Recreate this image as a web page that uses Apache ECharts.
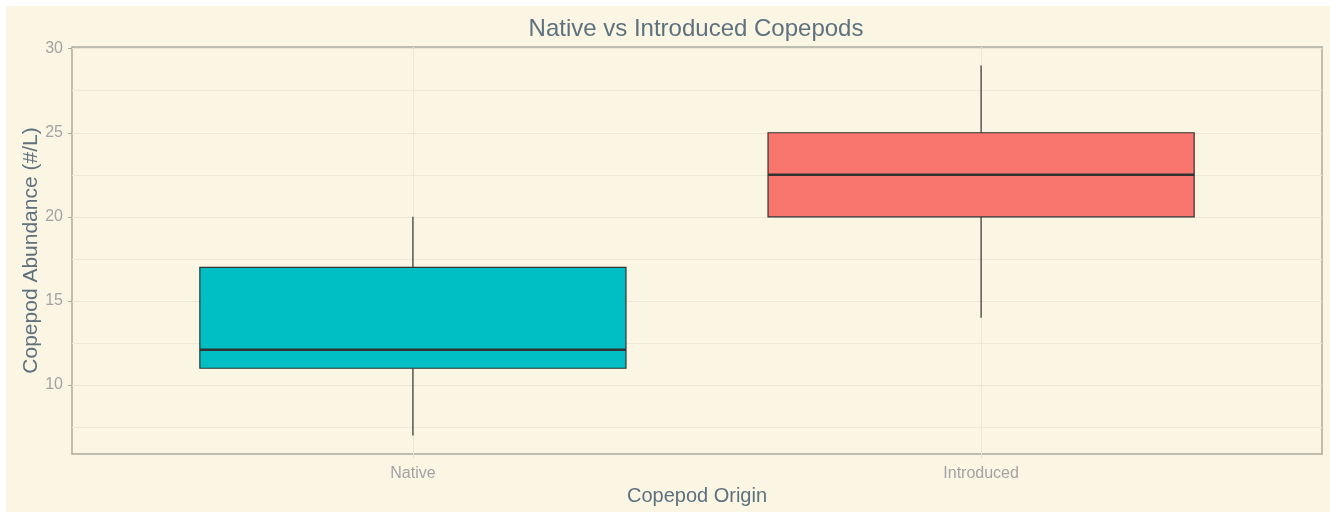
<!DOCTYPE html>
<html><head><meta charset="utf-8">
<script src="https://cdn.jsdelivr.net/npm/echarts@6/dist/echarts.min.js"></script>
<style>
html,body{margin:0;padding:0;background:#fff;}
#wrap{position:absolute;left:6px;top:6px;width:1324px;height:506px;background:#FBF5E4;}
#chart{width:1324px;height:506px;}
</style></head>
<body><div id="wrap"><div id="chart"></div></div>
<script>
const categories = ['Native', 'Introduced'];
const whiskerLow = [7, 14];
const q1 = [11, 20];
const median = [12.1, 22.5];
const q3 = [17, 25];
const whiskerHigh = [20, 29];
const boxColors = ['#00BFC4', '#F8766D'];
const yMajorTicks = [10, 15, 20, 25, 30];
const yMinorTicks = [7.5, 12.5, 17.5, 22.5, 27.5];
const catPositions = [1, 2];

const chart = echarts.init(document.getElementById('chart'), null, {renderer: 'canvas'});
const boxData = categories.map((c, i) => [catPositions[i], whiskerLow[i], q1[i], median[i], q3[i], whiskerHigh[i], i]);
const font = 'Liberation Sans';
const option = {
  backgroundColor: '#FBF5E4',
  title: {
    text: 'Native vs Introduced Copepods',
    left: 685, top: 6, textAlign: 'center',
    textStyle: {fontFamily: font, fontSize: 24, fontWeight: 'normal', color: '#5E717E'}
  },
  grid: {left: 66, right: 8, top: 41, bottom: 58, show: true, borderColor: '#A9AB9E', borderWidth: 1.5, backgroundColor: 'transparent', outerBoundsMode: 'none', containLabel: false},
  xAxis: {
    type: 'value', min: 0.4, max: 2.6,
    name: 'Copepod Origin', nameLocation: 'middle', nameGap: 32, nameMoveOverlap: false,
    nameTextStyle: {fontFamily: font, fontSize: 20, color: '#5E717E'},
    axisLine: {show: false},
    axisTick: {show: true, customValues: catPositions, length: 4, lineStyle: {color: '#E4DECF'}},
    axisLabel: {customValues: catPositions, formatter: v => categories[Math.round(v) - 1] || '', fontFamily: font, fontSize: 16, color: '#A3A3A3', margin: 12},
    splitLine: {show: true, lineStyle: {color: '#EDE6D4', width: 1}}
  },
  yAxis: {
    type: 'value', min: 5.9, max: 30.1,
    name: 'Copepod Abundance (#/L)', nameLocation: 'middle', nameGap: 30, nameRotate: 90, nameMoveOverlap: false,
    nameTextStyle: {fontFamily: font, fontSize: 21, color: '#5E717E'},
    axisLine: {show: false},
    axisTick: {show: true, customValues: yMajorTicks, length: 4, lineStyle: {color: '#A9AB9E'}},
    axisLabel: {customValues: yMajorTicks, fontFamily: font, fontSize: 16, color: '#A3A3A3', margin: 9},
    splitLine: {show: true, lineStyle: {color: '#EDE6D4', width: 1}}
  },
  series: [
    {
      type: 'line', data: [], silent: true, z: 1,
      markLine: {
        silent: true, symbol: 'none', label: {show: false}, z: 1,
        lineStyle: {color: '#EFE9D9', width: 1, type: 'solid'},
        data: yMinorTicks.map(v => ({yAxis: v}))
      }
    },
    {
      type: 'custom', z: 10,
      data: boxData,
      encode: {x: 0, y: [1, 2, 3, 4, 5]},
      renderItem: function (params, api) {
        const x = api.value(0);
        const idx = api.value(6);
        const half = 0.375;
        const pLow = api.coord([x, api.value(1)]);
        const pQ1 = api.coord([x, api.value(2)]);
        const pMed = api.coord([x, api.value(3)]);
        const pQ3 = api.coord([x, api.value(4)]);
        const pHigh = api.coord([x, api.value(5)]);
        const left = api.coord([x - half, api.value(2)])[0];
        const right = api.coord([x + half, api.value(2)])[0];
        const dark = '#333333';
        return {
          type: 'group',
          children: [
            {type: 'line', shape: {x1: pQ1[0], y1: pQ1[1], x2: pLow[0], y2: pLow[1]}, style: {stroke: dark, lineWidth: 1.2}},
            {type: 'line', shape: {x1: pQ3[0], y1: pQ3[1], x2: pHigh[0], y2: pHigh[1]}, style: {stroke: dark, lineWidth: 1.2}},
            {type: 'rect', shape: {x: left, y: pQ3[1], width: right - left, height: pQ1[1] - pQ3[1]}, style: {fill: boxColors[idx], stroke: dark, lineWidth: 1.2}},
            {type: 'line', shape: {x1: left, y1: pMed[1], x2: right, y2: pMed[1]}, style: {stroke: dark, lineWidth: 2.4}}
          ]
        };
      }
    }
  ]
};
chart.setOption(option);
</script>
</body></html>
